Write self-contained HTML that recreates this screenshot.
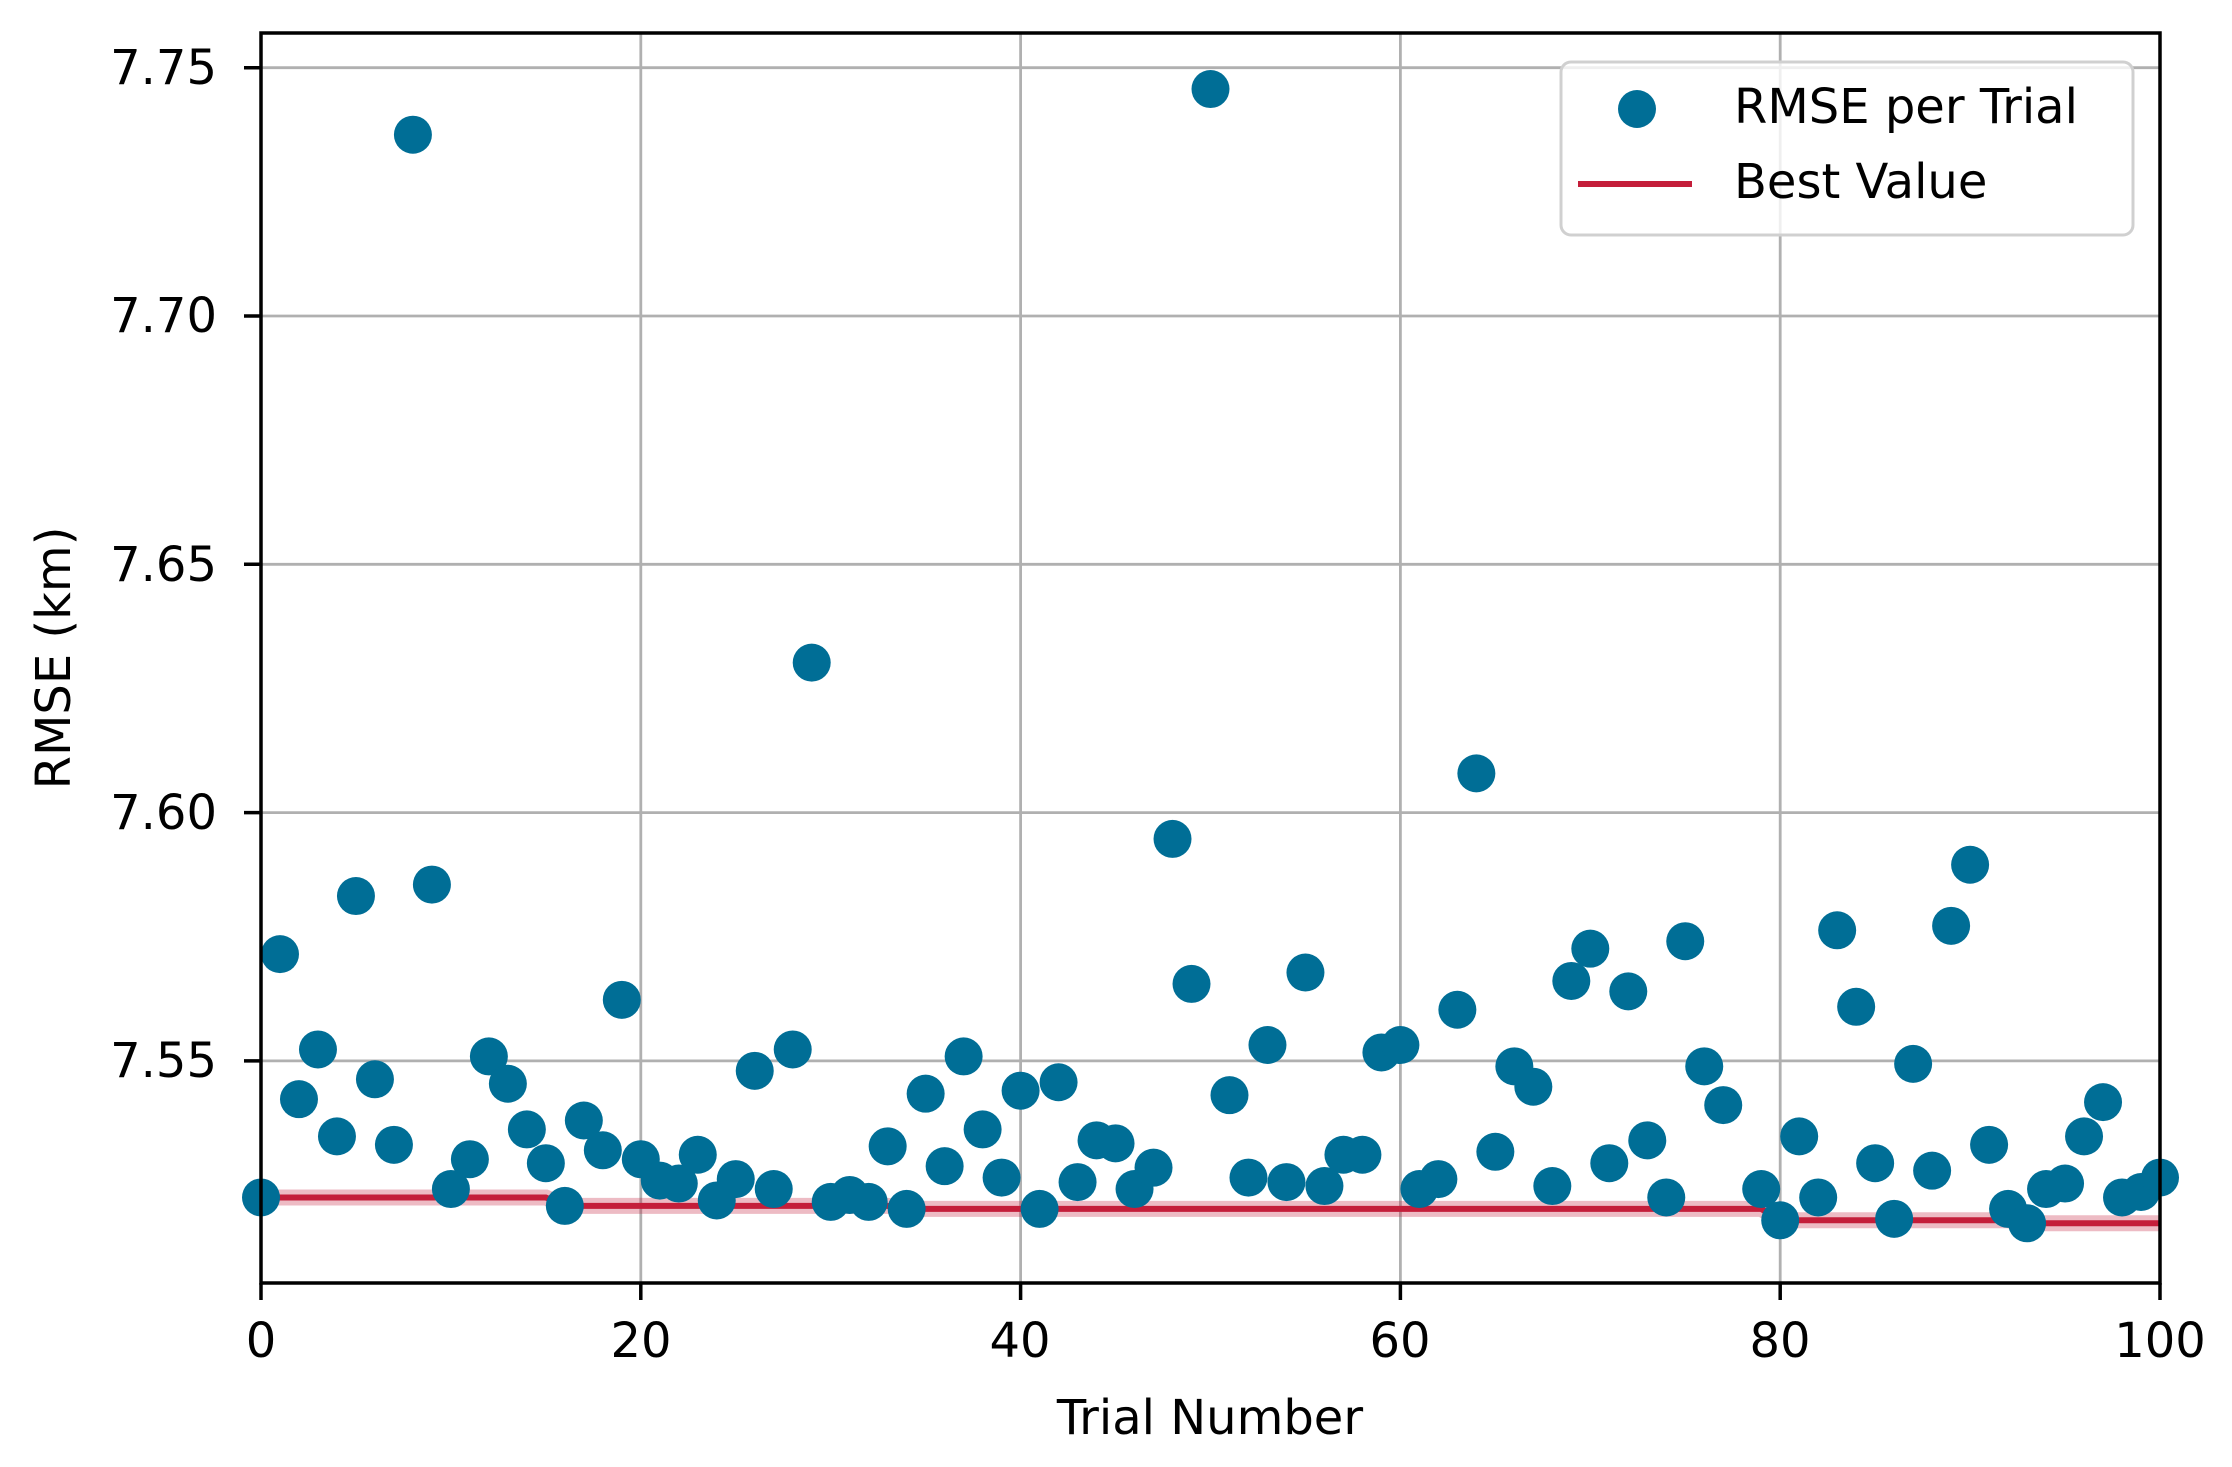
<!DOCTYPE html>
<html><head><meta charset="utf-8"><style>html,body{margin:0;padding:0;background:#fff;}svg{display:block;}text{font-family:"DejaVu Sans","Liberation Sans",sans-serif;fill:#000;}</style></head>
<body>
<svg id="s" width="2232" height="1467" viewBox="0 0 2232 1467" xmlns="http://www.w3.org/2000/svg">
<rect width="2232" height="1467" fill="#fff"/>
<g id="grid" stroke="#b0b0b0" stroke-width="2.8"></g>
<g id="best"></g>
<g id="dots" fill="#006e96"></g>
<rect x="261" y="33" width="1899" height="1250" fill="none" stroke="#000" stroke-width="3.5"/>
<g id="ticks" stroke="#000" stroke-width="3.5"></g>
<g font-size="48" text-anchor="end">
<text x="217" y="84">7.75</text>
<text x="217" y="332">7.70</text>
<text x="217" y="581">7.65</text>
<text x="217" y="829">7.60</text>
<text x="217" y="1077">7.55</text>
</g>
<g font-size="48" text-anchor="middle">
<text x="261" y="1357">0</text>
<text x="641" y="1357">20</text>
<text x="1020" y="1357">40</text>
<text x="1400" y="1357">60</text>
<text x="1780" y="1357">80</text>
<text x="2160" y="1357">100</text>
<text x="1210" y="1434">Trial Number</text>
<text transform="translate(70,658) rotate(-90)">RMSE (km)</text>
</g>
<rect x="1561" y="62" width="572" height="173" rx="10" fill="#fff" fill-opacity="0.8" stroke="#d0d0d0" stroke-width="3"/>
<circle cx="1637" cy="109" r="19" fill="#006e96"/>
<line x1="1578" y1="184" x2="1692" y2="184" stroke="#c41e3a" stroke-width="6"/>
<g font-size="48"><text x="1734" y="123">RMSE per Trial</text><text x="1734" y="198">Best Value</text></g>
</svg>
<script>
var NS="http://www.w3.org/2000/svg";
function px(x){return 261+x*18.99;}
function py(v){return 67.7+(7.75-v)*4966;}
function el(p,t,a){var e=document.createElementNS(NS,t);for(var k in a)e.setAttribute(k,a[k]);document.getElementById(p).appendChild(e);}
[7.75,7.70,7.65,7.60,7.55].forEach(function(v){el("grid","line",{x1:261,x2:2160,y1:py(v),y2:py(v)});el("ticks","line",{x1:244,x2:261,y1:py(v),y2:py(v)});});
[0,20,40,60,80,100].forEach(function(x){el("grid","line",{x1:px(x),x2:px(x),y1:33,y2:1283});el("ticks","line",{x1:px(x),x2:px(x),y1:1283,y2:1300});});
var d=[7.5225,7.5715,7.5423,7.5523,7.5348,7.5832,7.5463,7.5331,7.7365,7.5855,7.5242,7.5302,7.5509,7.5454,7.5362,7.5294,7.5208,7.538,7.532,7.5623,7.5302,7.5259,7.5253,7.5311,7.5219,7.5262,7.548,7.5242,7.5523,7.6302,7.5216,7.523,7.5216,7.5328,7.5202,7.5434,7.5288,7.5509,7.5362,7.5265,7.544,7.5202,7.5457,7.5256,7.534,7.5334,7.5242,7.5285,7.5947,7.5655,7.7457,7.5431,7.5265,7.5532,7.5256,7.5678,7.5248,7.5311,7.5311,7.5517,7.5532,7.5242,7.5262,7.5603,7.6079,7.5317,7.5489,7.5448,7.5248,7.5661,7.5726,7.5294,7.564,7.534,7.5225,7.5741,7.5489,7.5411,7.525,7.5242,7.5179,7.5348,7.5225,7.5763,7.5609,7.5294,7.5182,7.5494,7.5279,7.5772,7.5895,7.5331,7.5202,7.5173,7.5242,7.5253,7.5348,7.5417,7.5225,7.5236,7.5265];
var b=99,pts=[];
d.forEach(function(v,i){if(v<b)b=v;pts.push(px(i)+","+py(b));});
el("best","polyline",{points:pts.join(" "),fill:"none",stroke:"#c41e3a","stroke-opacity":"0.3","stroke-width":"16"});
el("best","polyline",{points:pts.join(" "),fill:"none",stroke:"#c41e3a","stroke-width":"6"});
d.forEach(function(v,i){if(i===78)return;el("dots","circle",{cx:px(i),cy:py(v),r:19});});
</script>
</body></html>
